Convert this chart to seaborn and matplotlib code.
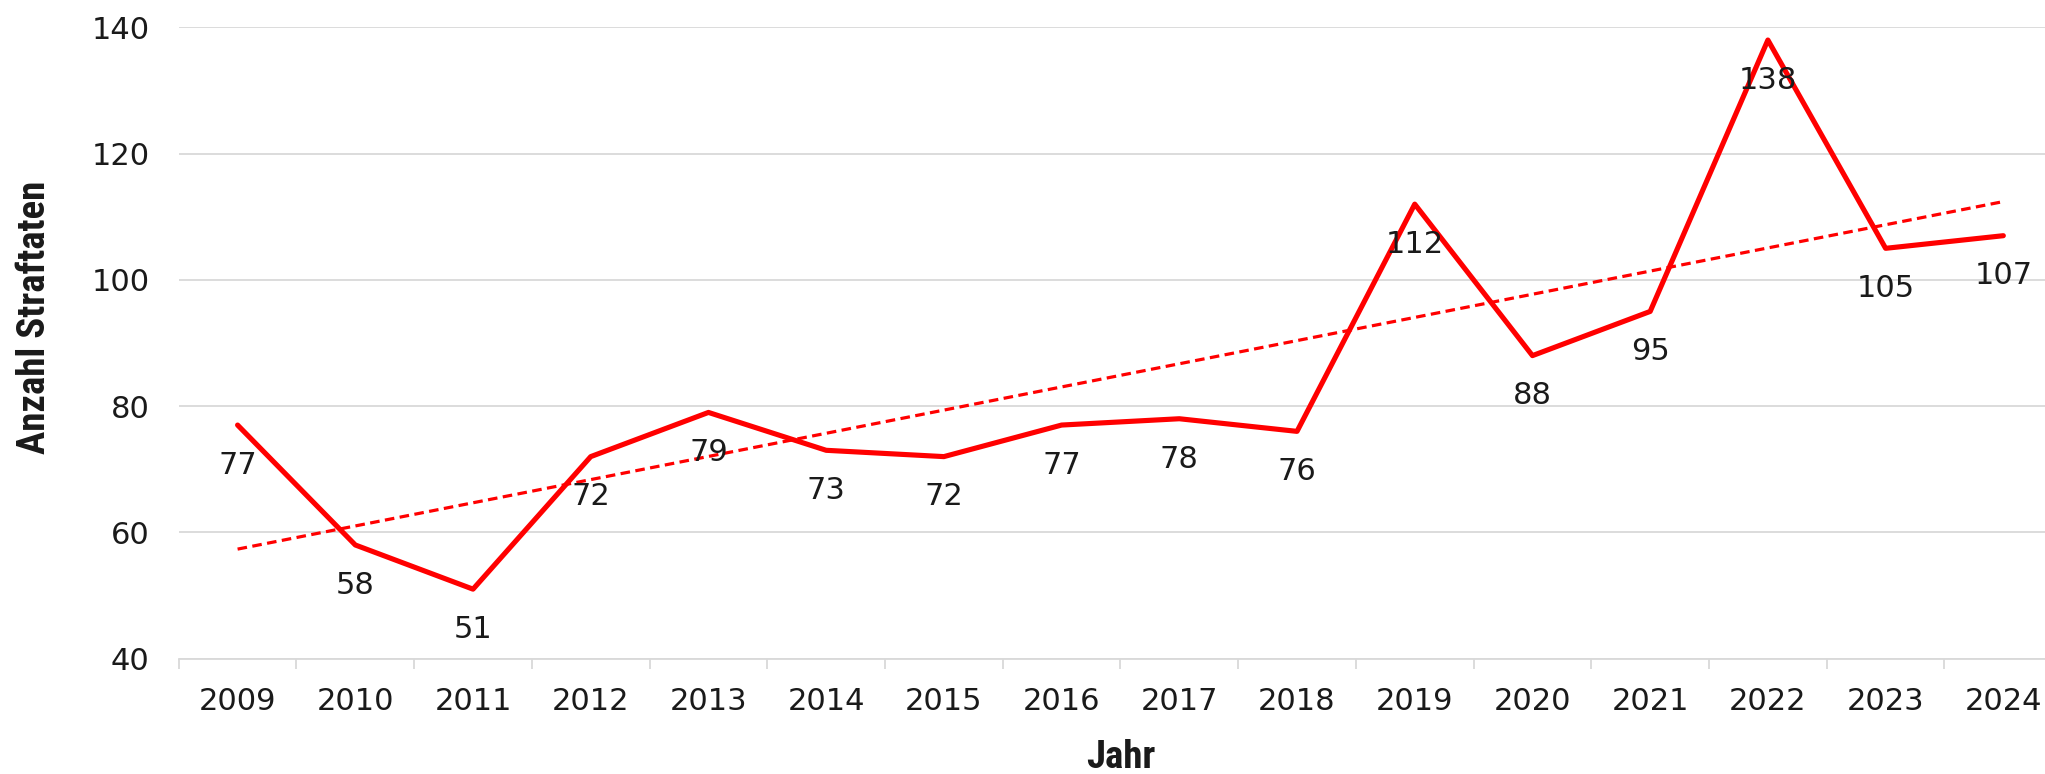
import numpy as np
import pandas as pd
import matplotlib.pyplot as plt
from matplotlib import font_manager
import seaborn as sns

# Daten
jahre = ['2009', '2010', '2011', '2012', '2013', '2014', '2015', '2016',
         '2017', '2018', '2019', '2020', '2021', '2022', '2023', '2024']
straftaten = [77, 58, 51, 72, 79, 73, 72, 77, 78, 76, 112, 88, 95, 138, 105, 107]

df = pd.DataFrame({'jahr': jahre, 'anzahl': straftaten})
df['pos'] = np.arange(len(df))

sns.set_style('white')
plt.rcParams['font.family'] = ['DejaVu Sans']

# schmale Schrift fuer Achsentitel, falls vorhanden
label_font = ['DejaVu Sans']
label_size = 21
for f in ['Liberation Sans Narrow', 'Roboto Condensed', 'Open Sans Condensed',
          'DejaVu Sans Condensed']:
    try:
        font_manager.findfont(font_manager.FontProperties(family=f),
                              fallback_to_default=False)
        label_font = [f, 'DejaVu Sans']
        label_size = 28
        break
    except Exception:
        pass

fig = plt.figure(figsize=(20.45, 7.74), dpi=100)
ax = fig.add_axes([0.0874, 0.1491, 0.921, 0.8155])

rot = '#FF0000'
sns.lineplot(data=df, x='pos', y='anzahl', color=rot, linewidth=3.7, ax=ax,
             clip_on=False)
# lineare Trendlinie
sns.regplot(data=df, x='pos', y='anzahl', scatter=False, ci=None, ax=ax,
            line_kws={'color': rot, 'linewidth': 2.3, 'linestyle': (0, (3, 1.7))})

# Datenbeschriftungen
for p, v in zip(df['pos'], df['anzahl']):
    ax.annotate(str(v), (p, v), xytext=(0, -29), textcoords='offset points',
                ha='center', va='center', fontsize=22, color='#1a1a1a')

ax.set_xlim(-0.5, len(df) - 0.5)
ax.set_ylim(40, 140)
ax.set_yticks(range(40, 141, 20))
ax.set_xticks(df['pos'])
ax.set_xticklabels(df['jahr'])
ax.set_xticks(np.arange(-0.5, len(df), 1), minor=True)
ax.tick_params(axis='x', which='major', bottom=False, pad=17, labelsize=22,
               labelcolor='#1a1a1a')
ax.tick_params(axis='x', which='minor', bottom=True, length=7, width=1.3,
               color='#d9d9d9')
ax.tick_params(axis='y', length=0, pad=21, labelsize=22, labelcolor='#1a1a1a')

ax.yaxis.grid(True, color='#d9d9d9', linewidth=1.3)
ax.set_axisbelow(True)
for s in ['top', 'right', 'left']:
    ax.spines[s].set_visible(False)
ax.spines['bottom'].set_color('#d9d9d9')
ax.spines['bottom'].set_linewidth(1.3)

ax.set_xlabel('Jahr', fontsize=label_size, fontweight='bold', family=label_font,
              color='#1a1a1a', va='center')
ax.xaxis.set_label_coords(0.5, -0.157)
ax.set_ylabel('')
fig.text(0.017, 0.59, 'Anzahl Straftaten', rotation=90, ha='center',
         va='center', fontsize=label_size, fontweight='bold', family=label_font,
         color='#1a1a1a')

fig.savefig('out.png', dpi=100)
